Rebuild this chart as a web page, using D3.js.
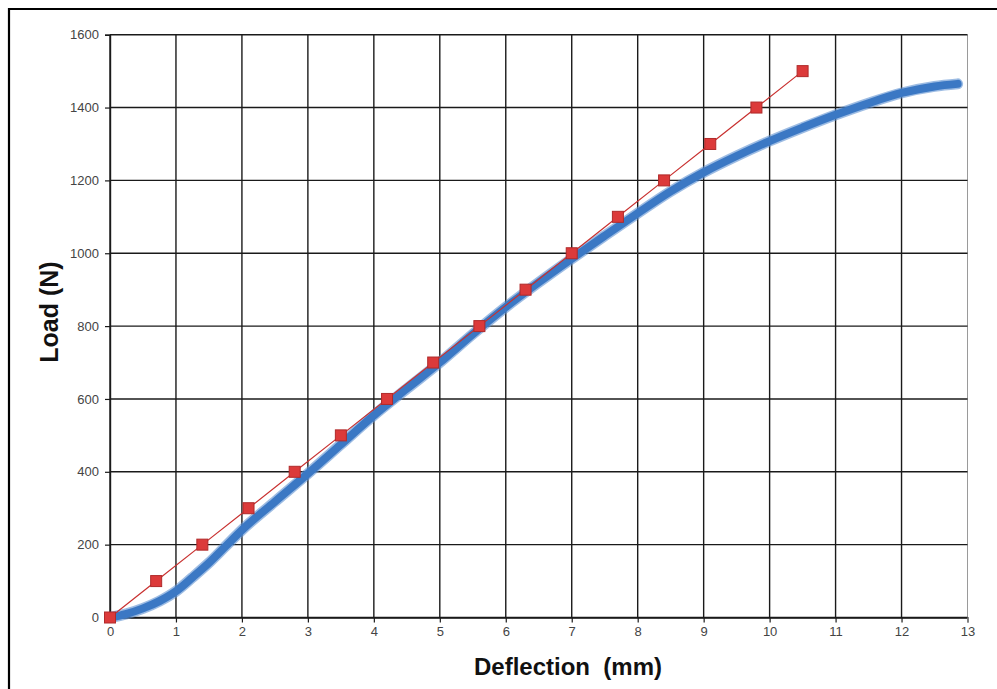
<!DOCTYPE html>
<html>
<head>
<meta charset="utf-8">
<script src="https://cdn.jsdelivr.net/npm/d3@7"></script>
<style>
  html, body { margin: 0; padding: 0; background: #fff; }
  svg { display: block; }
</style>
</head>
<body>
<script>
// ---- data ----
const xTicks = [0,1,2,3,4,5,6,7,8,9,10,11,12,13];
const yTicks = [0,200,400,600,800,1000,1200,1400,1600];

// measured load-deflection curve (blue band), deflection in mm
const measuredX = [0,0.25,0.5,0.75,1.0,1.25,1.5,1.75,2.0,2.5,3.0,3.5,4.0,4.5,5.0,5.5,6.0,6.5,7.0,7.5,8.0,8.5,9.0,9.5,10.0,10.5,11.0,11.5,12.0,12.5,12.85];
const measuredY = [0,10,25,45,72,110,150,195,240,318,395,475,555,628,700,778,852,920,985,1048,1110,1170,1222,1267,1308,1345,1380,1412,1440,1458,1465];

// linear reference series (red squares)
const linearX = [0,0.7,1.4,2.1,2.8,3.5,4.2,4.9,5.6,6.3,7.0,7.7,8.4,9.1,9.8,10.5];
const linearY = [0,100,200,300,400,500,600,700,800,900,1000,1100,1200,1300,1400,1500];

const xTitle = "Deflection  (mm)";
const yTitle = "Load (N)";

// ---- layout ----
const W = 997, H = 689;
const plot = {left: 110, top: 34.7, right: 967.5, bottom: 617.5};
const font = "Liberation Sans, Arial, sans-serif";

const svg = d3.select("body").append("svg").attr("width", W).attr("height", H);

// outer frame (only top/left visible in reference)
svg.append("path")
  .attr("d", `M9,${H+5} L9,9 L${W+5},9`)
  .attr("fill", "none").attr("stroke", "#000").attr("stroke-width", 2.2);

const x = d3.scaleLinear().domain([0,13]).range([plot.left, plot.right]);
const y = d3.scaleLinear().domain([0,1600]).range([plot.bottom, plot.top]);

// grid
const g = svg.append("g");
g.selectAll("line.v").data(xTicks).enter().append("line")
  .attr("x1", d => x(d)).attr("x2", d => x(d))
  .attr("y1", plot.top).attr("y2", plot.bottom)
  .attr("stroke", d => d === 13 ? "#9a9a9a" : "#1a1a1a")
  .attr("stroke-width", d => d === 13 ? 1 : 1.4);
g.selectAll("line.h").data(yTicks).enter().append("line")
  .attr("x1", plot.left).attr("x2", plot.right)
  .attr("y1", d => y(d)).attr("y2", d => y(d))
  .attr("stroke", "#1a1a1a").attr("stroke-width", 1.4);

// axes
const xAxis = d3.axisBottom(x).tickValues(xTicks).tickSize(5).tickPadding(4).tickFormat(d3.format("d"));
const yAxis = d3.axisLeft(y).tickValues(yTicks).tickSize(5).tickPadding(6).tickFormat(d3.format("d"));

const gx = svg.append("g").attr("transform", `translate(0,${plot.bottom})`).call(xAxis);
const gy = svg.append("g").attr("transform", `translate(${plot.left},0)`).call(yAxis);
[gx, gy].forEach(a => {
  a.select(".domain").attr("stroke", "#1a1a1a").attr("stroke-width", 1.4);
  a.selectAll(".tick line").attr("stroke", "#1a1a1a").attr("stroke-width", 1.2);
  a.selectAll(".tick text").attr("fill", "#444").attr("font-family", font).attr("font-size", 13);
});
gx.selectAll(".tick").filter(d => d === 13).select("line").attr("stroke", "#9a9a9a");

// axis titles
svg.append("text")
  .attr("x", 568).attr("y", 675)
  .attr("text-anchor", "middle")
  .attr("font-family", font)
  .attr("font-weight", "bold").attr("font-size", 24).attr("fill", "#111")
  .attr("xml:space", "preserve")
  .style("white-space", "pre")
  .text(xTitle);
svg.append("text")
  .attr("transform", `translate(58,${312}) rotate(-90)`)
  .attr("text-anchor", "middle")
  .attr("font-family", font)
  .attr("font-weight", "bold").attr("font-size", 25).attr("fill", "#111")
  .text(yTitle);

// measured curve (thick blue band)
const measured = measuredX.map((d,i) => [d, measuredY[i]]);
const line = d3.line().x(d => x(d[0])).y(d => y(d[1])).curve(d3.curveMonotoneX);
svg.append("path").datum(measured)
  .attr("d", line).attr("fill", "none")
  .attr("stroke", "#5b8fd0").attr("stroke-width", 11).attr("stroke-linejoin", "round").attr("stroke-linecap", "round").attr("opacity", 0.6);
svg.append("path").datum(measured)
  .attr("d", line).attr("fill", "none")
  .attr("stroke", "#3b78c4").attr("stroke-width", 8).attr("stroke-linejoin", "round").attr("stroke-linecap", "round");

// linear series (red)
const linear = linearX.map((d,i) => [d, linearY[i]]);
svg.append("path").datum(linear)
  .attr("d", d3.line().x(d => x(d[0])).y(d => y(d[1])))
  .attr("fill", "none").attr("stroke", "#c8302f").attr("stroke-width", 1.2);
const s = 11;
svg.selectAll("rect.sq").data(linear).enter().append("rect")
  .attr("x", d => x(d[0]) - s/2).attr("y", d => y(d[1]) - s/2)
  .attr("width", s).attr("height", s)
  .attr("fill", "#dc3a3a").attr("stroke", "#b02a2a").attr("stroke-width", 1);
</script>
</body>
</html>
